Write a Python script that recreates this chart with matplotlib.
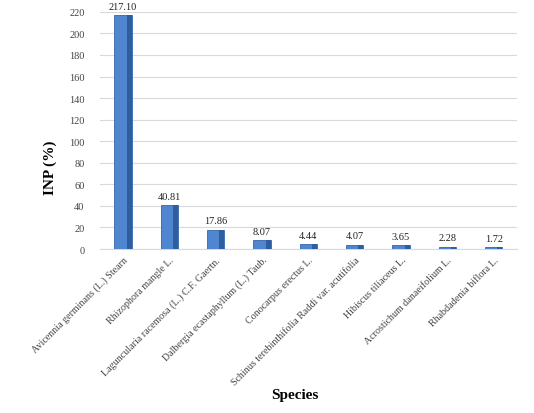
import matplotlib
matplotlib.use("Agg")
import matplotlib.pyplot as plt
import numpy as np

species = [
    "Avicennia germinans (L.) Stearn",
    "Rhizophora mangle L.",
    "Laguncularia racemosa (L.) C.F. Gaertn.",
    "Dalbergia ecastaphyllum (L.) Taub.",
    "Conocarpus erectus L.",
    "Schinus terebinthifolia Raddi var. acutifolia",
    "Hibiscus tiliaceus L.",
    "Acrostichum danaeifolium L.",
    "Rhabdadenia biflora L.",
]
inp = [217.10, 40.81, 17.86, 8.07, 4.44, 4.07, 3.65, 2.28, 1.72]
value_labels = ["217.10", "40.81", "17.86", "8.07", "4.44", "4.07", "3.65", "2.28", "1.72"]
yticks = list(range(0, 221, 20))

fig = plt.figure(figsize=(5.34, 4.14), dpi=100)
ax = fig.add_axes([0.187, 0.396, 0.781, 0.573])

x = np.arange(len(species))
ax.bar(x, inp, width=0.37, color="#4f86cf", edgecolor="#3467aa", linewidth=0.6, zorder=3)
ax.bar(x + 0.13, inp, width=0.11, color="#2e5e9e", linewidth=0, zorder=4)

for xi, v, lab in zip(x, inp, value_labels):
    ax.text(xi, v + 4, lab, ha="center", va="bottom", fontsize=7.5,
            family="Liberation Serif", color="#222222", zorder=5)

ax.set_xlim(-0.5, len(species) - 0.5)
ax.set_ylim(0, 220)
ax.set_yticks(yticks)
ax.set_yticklabels([str(t) for t in yticks], fontsize=7.5, family="Liberation Serif", color="#444444")
ax.yaxis.grid(True, color="#d9d9d9", linewidth=0.8, zorder=0)
ax.set_axisbelow(True)
ax.tick_params(axis="y", length=0, pad=11)
ax.tick_params(axis="x", length=0, pad=4)
ax.set_xticks(x)
ax.set_xticklabels(species, rotation=45, ha="right", rotation_mode="anchor",
                   fontsize=7.2, family="Liberation Serif", color="#444444")
for s in ["top", "right", "left"]:
    ax.spines[s].set_visible(False)
ax.spines["bottom"].set_color("#d9d9d9")

ax.set_ylabel("INP (%)", fontsize=11, fontweight="bold", family="Liberation Serif")
ax.yaxis.set_label_coords(-0.103, 0.345)
ax.set_xlabel("Species", fontsize=11, fontweight="bold", family="Liberation Serif")
ax.xaxis.set_label_coords(0.467, -0.585)

fig.savefig("out.png", dpi=100)
